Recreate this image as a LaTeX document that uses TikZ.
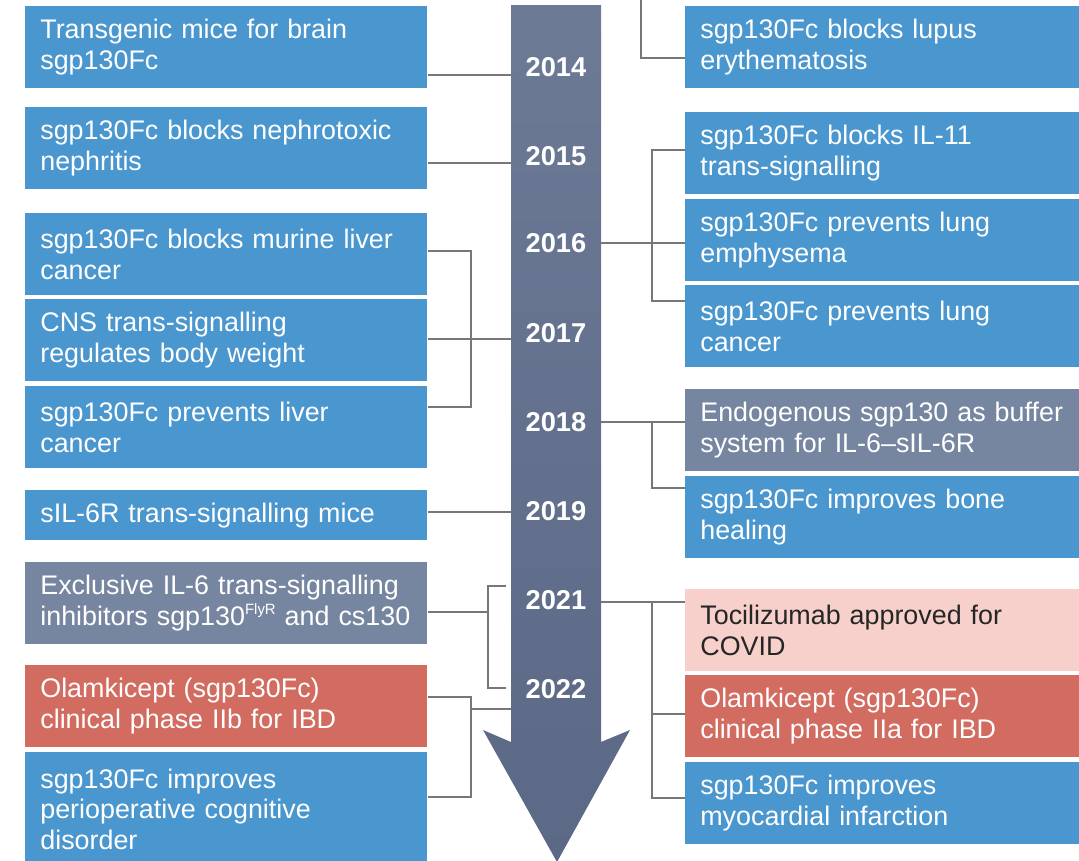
\documentclass[tikz,border=0pt]{standalone}
\usepackage{fontspec}
\setmainfont{Liberation Sans}
\usetikzlibrary{calc}

\definecolor{evblue}{HTML}{4A96CE}
\definecolor{evgrey}{HTML}{7685A0}
\definecolor{evred}{HTML}{D26B60}
\definecolor{evpink}{HTML}{F7D0CB}
\definecolor{axtop}{HTML}{6D7A96}
\definecolor{axbot}{HTML}{5B6886}
\definecolor{lnk}{HTML}{777777}

\newcommand{\smallsup}[1]{\raisebox{0.75ex}{\fontsize{8.5}{9}\selectfont #1}}

\begin{document}
\begin{tikzpicture}[x=0.02cm,y=-0.02cm,
  evt/.style={shape=rectangle,anchor=north west,inner xsep=0.3cm,inner ysep=0pt,align=left,text=white,
    font=\fontsize{15.3}{17.6}\selectfont,minimum height=1.63cm},
  evtL/.style={evt,text width=7.44cm},
  evtR/.style={evt,text width=7.28cm},
  blu/.style={fill=evblue},
  gry/.style={fill=evgrey},
  red/.style={fill=evred},
  pnk/.style={fill=evpink,text=black!85},
  year/.style={text=white,font=\fontsize{15.5}{18}\selectfont\bfseries},
  link/.style={draw=lnk,line width=0.7pt}]
\useasboundingbox (0,0) rectangle (1079,860);
\clip (0,0) rectangle (1079,860);
\def\xl{25};
\def\xr{685};

% time axis
\shade[top color=axtop,bottom color=axbot] (511,5) -- (601,5) -- (601,742) -- (630,730) -- (557,862)
  -- (483,730) -- (511,742) -- cycle;

\node[year] (y14) at (556,67) {2014};
\node[year] (y15) at (556,156) {2015};
\node[year] (y16) at (556,243) {2016};
\node[year] (y17) at (556,333) {2017};
\node[year] (y18) at (556,422) {2018};
\node[year] (y19) at (556,511) {2019};
\node[year] (y21) at (556,600) {2021};
\node[year] (y22) at (556,689) {2022};

% left column
\node[evtL,blu] (L1) at (\xl,6) {Transgenic mice for brain\\sgp130Fc};
\node[evtL,blu] (L2) at (\xl,107) {sgp130Fc blocks nephrotoxic\\nephritis};
\node[evtL,blu] (L3) at (\xl,213) {sgp130Fc blocks murine liver\\cancer};
\node[evtL,blu] (L4) at (\xl,299) {CNS trans-signalling\\regulates body weight};
\node[evtL,blu] (L5) at (\xl,386) {sgp130Fc prevents liver\\cancer};
\node[evtL,blu,minimum height=1cm] (L6) at (\xl,490) {sIL-6R trans-signalling mice};
\node[evtL,gry] (L7) at (\xl,562) {Exclusive IL-6 trans-signalling\\\mbox{inhibitors sgp130\smallsup{FlyR} and cs130}};
\node[evtL,red] (L8) at (\xl,665) {Olamkicept (sgp130Fc)\\clinical phase IIb for IBD};
\node[evtL,blu,minimum height=2.28cm] (L9) at (\xl,752) {sgp130Fc improves\\perioperative cognitive\\disorder};

% right column
\node[evtR,blu] (R1) at (\xr,6) {sgp130Fc blocks lupus\\erythematosis};
\node[evtR,blu] (R2) at (\xr,112) {sgp130Fc blocks IL-11\\trans-signalling};
\node[evtR,blu] (R3) at (\xr,199) {sgp130Fc prevents lung\\emphysema};
\node[evtR,blu] (R4) at (\xr,285) {sgp130Fc prevents lung\\cancer};
\node[evtR,gry] (R5) at (\xr,389) {Endogenous sgp130 as buffer\\system for IL-6\textendash sIL-6R};
\node[evtR,blu] (R6) at (\xr,476) {sgp130Fc improves bone\\healing};
\node[evtR,pnk] (R7) at (\xr,589) {Tocilizumab approved for\\COVID};
\node[evtR,red] (R8) at (\xr,675) {Olamkicept (sgp130Fc)\\clinical phase IIa for IBD};
\node[evtR,blu] (R9) at (\xr,762) {sgp130Fc improves\\myocardial infarction};

% links on the left
\coordinate (t14) at (511,75);
\draw[link] (L1.east |- t14) -- (t14);
\coordinate (t15) at (511,163);
\draw[link] (L2.east |- t15) -- (t15);
\coordinate (t17) at (511,339);
\coordinate (s17a) at (471,251);
\coordinate (s17b) at (471,407);
\draw[link] (L3.east |- s17a) -- (s17a) -- (s17b) -- (L5.east |- s17b);
\draw[link] (L4.east |- t17) -- (t17);
\coordinate (t19) at (511,512);
\draw[link] (L6.east |- t19) -- (t19);
\coordinate (k21) at (488,612);
\coordinate (s21a) at (506,586);
\coordinate (s21b) at (506,688);
\draw[link] (L7.east |- k21) -- (k21);
\draw[link] (s21a) -| (k21) |- (s21b);
\coordinate (t22) at (511,709);
\coordinate (s22a) at (471,697);
\coordinate (s22b) at (471,797);
\draw[link] (L8.east |- s22a) -- (s22a) -- (s22b) -- (L9.east |- s22b);
\draw[link] (t22) -- (t22 -| s22a);

% links on the right
\coordinate (top13) at (641,0);
\coordinate (k13) at (641,58);
\draw[link] (top13) -- (k13) -- (R1.west |- k13);
\coordinate (u16) at (601,243);
\coordinate (s16a) at (652,150);
\coordinate (s16b) at (652,301);
\draw[link] (u16) -- (R3.west |- u16);
\draw[link] (R2.west |- s16a) -- (s16a) -- (s16b) -- (R4.west |- s16b);
\coordinate (u18) at (601,422);
\coordinate (s18) at (652,488);
\draw[link] (u18) -- (R5.west |- u18);
\draw[link] (u18 -| s18) -- (s18) -- (R6.west |- s18);
\coordinate (u21) at (601,602);
\coordinate (s21c) at (652,714);
\coordinate (s21d) at (652,798);
\draw[link] (u21) -- (R7.west |- u21);
\draw[link] (u21 -| s21c) -- (s21d) -- (R9.west |- s21d);
\draw[link] (s21c) -- (R8.west |- s21c);
\end{tikzpicture}
\end{document}
